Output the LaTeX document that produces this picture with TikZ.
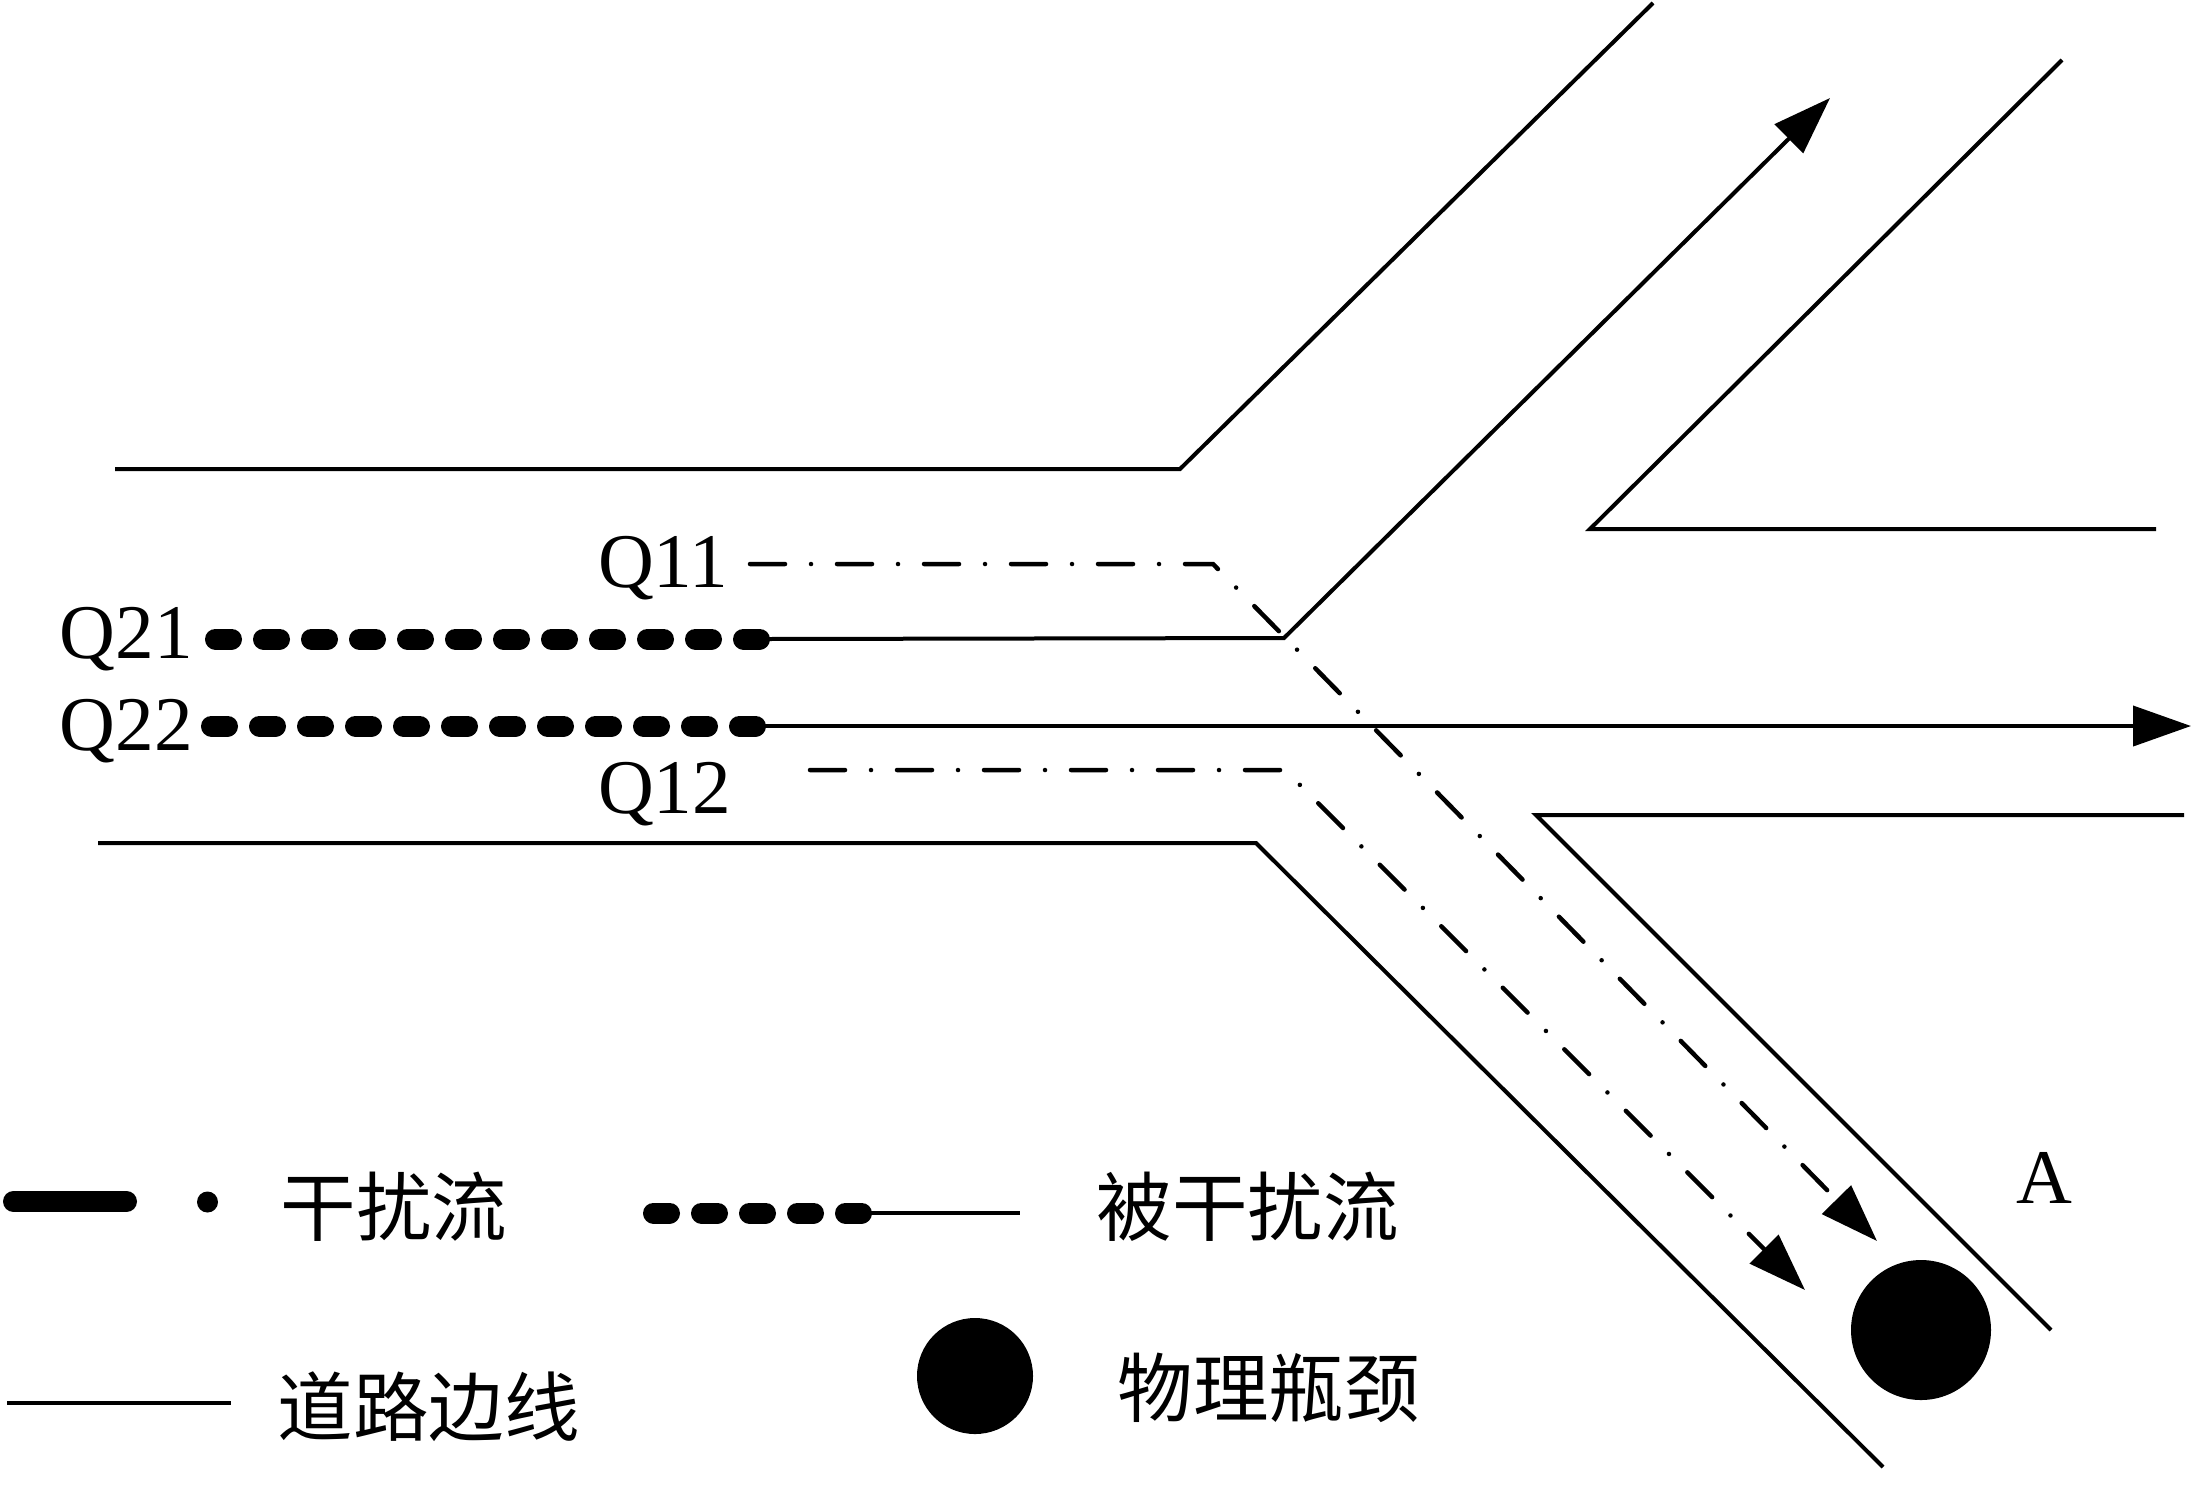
\documentclass[tikz,border=0pt]{standalone}
\usepackage{fontspec}
\setmainfont{Liberation Serif}
\newfontfamily\cjk{Noto Sans CJK SC}
\usetikzlibrary{arrows.meta}
\begin{document}
\begin{tikzpicture}[x=0.1mm,y=-0.1mm,
  road/.style={line width=0.4mm},
  flow/.style={line width=0.4mm},
  dashdotline/.style={line width=0.45mm, line cap=round,
     dash pattern=on 3.5mm off 2.6mm on 0mm off 2.6mm},
  beadline/.style={line width=2.1mm, line cap=round,
     dash pattern=on 1.6mm off 3.2mm},
  tipped/.style={-{Triangle[length=5.8mm,width=4mm]}},
  lab/.style={font=\fontsize{22}{26}\selectfont, inner sep=0pt},
  cjklab/.style={font=\fontsize{21.5}{25}\selectfont\cjk, inner sep=0pt, anchor=west},
  blob/.style={circle, fill=black, inner sep=0pt}]
\useasboundingbox (0,0) rectangle (2195,1484);

% road edges
\coordinate (U1) at (115,469);  \coordinate (U2) at (1180,469);  \coordinate (U3) at (1653,3);
\coordinate (R1) at (2062,60);  \coordinate (R2) at (1590,529);  \coordinate (R3) at (2156,529);
\coordinate (L1) at (98,843);   \coordinate (L2) at (1256,843);  \coordinate (L3) at (1883,1467);
\coordinate (M1) at (2184,815); \coordinate (M2) at (1536,815);  \coordinate (M3) at (2051,1330);
\draw[road] (U1) -- (U2) -- (U3);
\draw[road] (R1) -- (R2) -- (R3);
\draw[road] (L1) -- (L2) -- (L3);
\draw[road] (M1) -- (M2) -- (M3);

% labels
\node[lab, anchor=base east] (q11) at (729,587) {Q11};
\node[lab, anchor=base west] (q21) at (59,658) {Q21};
\node[lab, anchor=base west] (q22) at (59,750) {Q22};
\node[lab, anchor=base east] (q12) at (732,813) {Q12};
\node[lab, anchor=base] (A) at (2044,1203) {A};

% Q21 flow
\coordinate (a0) at (215.5,639); \coordinate (a1) at (759.5,639);
\coordinate (a2) at (1284,638);  \coordinate (a3) at (1830,98);
\draw[beadline] (a0) -- (a1);
\draw[flow, tipped] (a1) -- (a2) -- (a3);

% Q22 flow
\coordinate (b0) at (211.5,726); \coordinate (b1) at (755.5,726);
\coordinate (b2) at (2191,726);
\draw[beadline] (b0) -- (b1);
\draw[flow, tipped] (b1) -- (b2);

% Q11 flow
\coordinate (c0) at (750,564); \coordinate (c1) at (1213,564); \coordinate (c2) at (1877,1241);
\draw[dashdotline, tipped] (c0) -- (c1) -- (c2);

% Q12 flow
\coordinate (d0) at (810,770); \coordinate (d1) at (1285,770); \coordinate (d2) at (1805,1290);
\draw[dashdotline, tipped] (d0) -- (d1) -- (d2);

% bottleneck
\node[blob, minimum size=14mm] (neck) at (1921,1330) {};

% legend
\coordinate (e0) at (13.5,1201.5); \coordinate (e1) at (126.5,1201.5);
\draw[line width=2.1mm, line cap=round] (e0) -- (e1);
\node[blob, minimum size=2.1mm] (edot) at (207.5,1202) {};
\node[cjklab] (t1) at (280,1207) {干扰流};

\coordinate (f0) at (653.5,1213); \coordinate (f1) at (861.5,1213); \coordinate (f2) at (1020,1213);
\draw[beadline] (f0) -- (f1);
\draw[flow] (f1) -- (f2);
\node[cjklab] (t2) at (1096,1207) {被干扰流};

\coordinate (g0) at (7,1403); \coordinate (g1) at (231,1403);
\draw[road] (g0) -- (g1);
\node[cjklab] (t3) at (277,1407) {道路边线};

\node[blob, minimum size=11.6mm] (lneck) at (975,1376) {};
\node[cjklab] (t4) at (1117,1388) {物理瓶颈};
\end{tikzpicture}
\end{document}
